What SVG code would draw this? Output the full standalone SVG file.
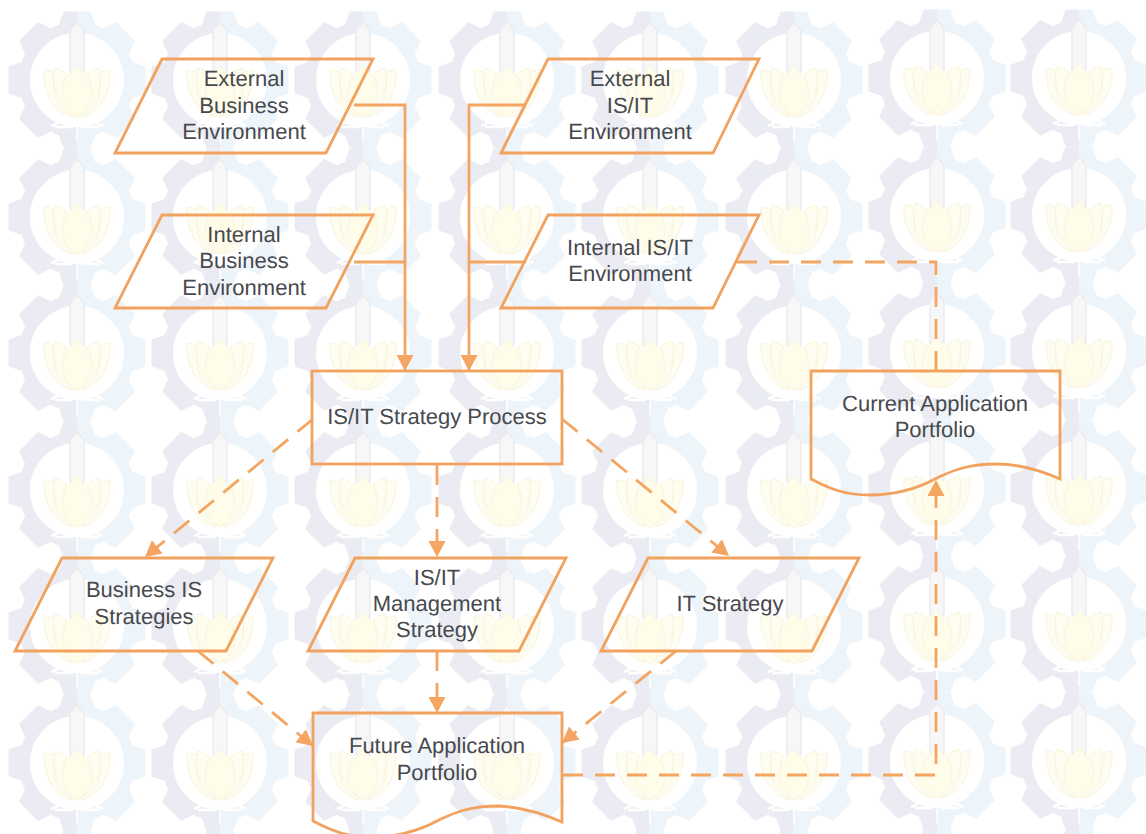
<svg xmlns="http://www.w3.org/2000/svg" xmlns:xlink="http://www.w3.org/1999/xlink" width="1146" height="834" viewBox="0 0 1146 834">
<style>
.s{fill:none;stroke:#f3a561;stroke-width:2.8}
.b{fill:none;stroke:#f2a25f;stroke-width:2.8;stroke-linejoin:miter}
.d{stroke-dasharray:20 12}
text{font-family:"Liberation Sans",Arial,sans-serif;font-size:22px;fill:#47494d;text-anchor:middle;text-rendering:geometricPrecision}
</style>
<defs>
<marker id="a" markerUnits="userSpaceOnUse" markerWidth="18" markerHeight="18" refX="16" refY="8.5" orient="auto"><path d="M0 0L16 8.5L0 17Z" fill="#f3a561"/></marker>
<clipPath id="lh"><rect x="-80" y="-80" width="80" height="160"/></clipPath>
<clipPath id="rh"><rect x="0" y="-80" width="80" height="160"/></clipPath>
<g id="gear">
<circle r="52.5" fill="none" stroke-width="11"/>
<path d="M-13-68H13L18-54H-18Z"/>
<path transform="rotate(45)" d="M-13-68H13L18-54H-18Z"/>
<path transform="rotate(90)" d="M-13-68H13L18-54H-18Z"/>
<path transform="rotate(135)" d="M-13-68H13L18-54H-18Z"/>
<path transform="rotate(180)" d="M-13-68H13L18-54H-18Z"/>
<path transform="rotate(225)" d="M-13-68H13L18-54H-18Z"/>
<path transform="rotate(270)" d="M-13-68H13L18-54H-18Z"/>
<path transform="rotate(315)" d="M-13-68H13L18-54H-18Z"/>
</g>
<g id="logo">
<use href="#gear" clip-path="url(#lh)" fill="#ebecf3" stroke="#ebecf3"/>
<use href="#gear" clip-path="url(#rh)" fill="#eef5fa" stroke="#eef5fa"/>
<path d="M-7-44V-50L0-58L7-50V-8H-7Z" fill="#f7f7f7" stroke="#ebebee" stroke-width="1.5"/>
<path d="M-33-10C-28-10-24-8-20-6C-28 12-20 28-4 37C-22 34-34 14-33-10ZM33-10C28-10 24-8 20-6C28 12 20 28 4 37C22 34 34 14 33-10Z" fill="#fffdf0" stroke="#f8f4dc" stroke-width="1"/>
<path d="M-22-12C-16-10-12-8-10-6C-18 8-14 24 0 37C-16 30-28 8-22-12ZM22-12C16-10 12-8 10-6C18 8 14 24 0 37C16 30 28 8 22-12Z" fill="#fffdef" stroke="#f8f4dc" stroke-width="1"/>
<path d="M0 37C-20 24-20 4 0-13C20 4 20 24 0 37Z" fill="#fffde9" stroke="#fbf6dc" stroke-width="1"/>
<path d="M-26 46C-20 44-16 40-9 37M26 46C20 44 16 40 9 37M-22 47H-4M22 47H4" fill="none" stroke="#fff" stroke-width="2.5"/>
<path d="M0 38V62" fill="none" stroke="#fff" stroke-width="1.5"/>
</g>
</defs>
<rect width="1146" height="834" fill="#fff"/>
<g id="watermark">
<use href="#logo" x="77" y="80"/><use href="#logo" x="220" y="80"/><use href="#logo" x="363" y="80"/><use href="#logo" x="507" y="80"/><use href="#logo" x="650" y="80"/><use href="#logo" x="794" y="80"/><use href="#logo" x="937" y="78"/><use href="#logo" x="1079" y="78"/>
<use href="#logo" x="77" y="217"/><use href="#logo" x="220" y="217"/><use href="#logo" x="363" y="217"/><use href="#logo" x="507" y="217"/><use href="#logo" x="650" y="217"/><use href="#logo" x="794" y="217"/><use href="#logo" x="937" y="215"/><use href="#logo" x="1079" y="215"/>
<use href="#logo" x="77" y="353"/><use href="#logo" x="220" y="353"/><use href="#logo" x="363" y="353"/><use href="#logo" x="507" y="353"/><use href="#logo" x="650" y="353"/><use href="#logo" x="794" y="353"/><use href="#logo" x="937" y="351"/><use href="#logo" x="1079" y="351"/>
<use href="#logo" x="77" y="490"/><use href="#logo" x="220" y="490"/><use href="#logo" x="363" y="490"/><use href="#logo" x="507" y="490"/><use href="#logo" x="650" y="490"/><use href="#logo" x="794" y="490"/><use href="#logo" x="937" y="488"/><use href="#logo" x="1079" y="488"/>
<use href="#logo" x="77" y="626"/><use href="#logo" x="220" y="626"/><use href="#logo" x="363" y="626"/><use href="#logo" x="507" y="626"/><use href="#logo" x="650" y="626"/><use href="#logo" x="794" y="626"/><use href="#logo" x="937" y="624"/><use href="#logo" x="1079" y="624"/>
<use href="#logo" x="77" y="763"/><use href="#logo" x="220" y="763"/><use href="#logo" x="363" y="763"/><use href="#logo" x="507" y="763"/><use href="#logo" x="650" y="763"/><use href="#logo" x="794" y="763"/><use href="#logo" x="937" y="761"/><use href="#logo" x="1079" y="761"/>
<use href="#logo" x="77" y="899"/><use href="#logo" x="220" y="899"/><use href="#logo" x="363" y="899"/><use href="#logo" x="507" y="899"/><use href="#logo" x="650" y="899"/><use href="#logo" x="794" y="899"/><use href="#logo" x="937" y="897"/><use href="#logo" x="1079" y="897"/>
</g>
<g id="connectors">
<path class="s" d="M354 105H405V371" marker-end="url(#a)"/>
<path class="s" d="M354 262H405"/>
<path class="s" d="M526 105H469V371" marker-end="url(#a)"/>
<path class="s" d="M526 262H469"/>
<path class="s d" d="M737 262H936V371"/>
<path class="s d" d="M313 419L145 557" marker-end="url(#a)"/>
<path class="s d" d="M437 465V557" marker-end="url(#a)"/>
<path class="s d" d="M562 419L729 556" marker-end="url(#a)"/>
<path class="s d" d="M198 651L313 746" marker-end="url(#a)"/>
<path class="s d" d="M437 651V713" marker-end="url(#a)"/>
<path class="s d" d="M676 651L562 743" marker-end="url(#a)"/>
<path class="s d" d="M563 775H936V480" marker-end="url(#a)"/>
</g>
<g id="n1"><path class="b" d="M162 59H373L326 153H115Z"/><text x="244" y="86">External</text><text x="244" y="113">Business</text><text x="244" y="139">Environment</text></g>
<g id="n2"><path class="b" d="M162 215H373L326 308H115Z"/><text x="244" y="242">Internal</text><text x="244" y="268">Business</text><text x="244" y="295">Environment</text></g>
<g id="n3"><path class="b" d="M548 59H759L713 153H501Z"/><text x="630" y="86">External</text><text x="630" y="113">IS/IT</text><text x="630" y="139">Environment</text></g>
<g id="n4"><path class="b" d="M548 215H759L713 308H501Z"/><text x="630" y="255">Internal IS/IT</text><text x="630" y="281">Environment</text></g>
<g id="n5"><rect class="b" x="312" y="371" width="250" height="93"/><text x="437" y="424">IS/IT Strategy Process</text></g>
<g id="n6"><path class="b" d="M811 371H1060V479C1035 468 1015 464 997 464C965 464 950 472 937 478C915 490 895 495 870 495C845 495 830 489 811 479Z"/><text x="935" y="411">Current Application</text><text x="935" y="437">Portfolio</text></g>
<g id="n7"><path class="b" d="M62 558H273L226 651H15Z"/><text x="144" y="597">Business IS</text><text x="144" y="624">Strategies</text></g>
<g id="n8"><path class="b" d="M355 558H566L519 651H308Z"/><text x="437" y="585">IS/IT</text><text x="437" y="611">Management</text><text x="437" y="637">Strategy</text></g>
<g id="n9"><path class="b" d="M648 558H859L812 651H601Z"/><text x="730" y="611">IT Strategy</text></g>
<g id="n10"><path class="b" d="M313 713H562V822C537 811 517 807 499 806C467 806 452 814 439 820C417 832 397 837 372 837C347 837 332 831 313 821Z"/><text x="437" y="753">Future Application</text><text x="437" y="780">Portfolio</text></g>
</svg>
